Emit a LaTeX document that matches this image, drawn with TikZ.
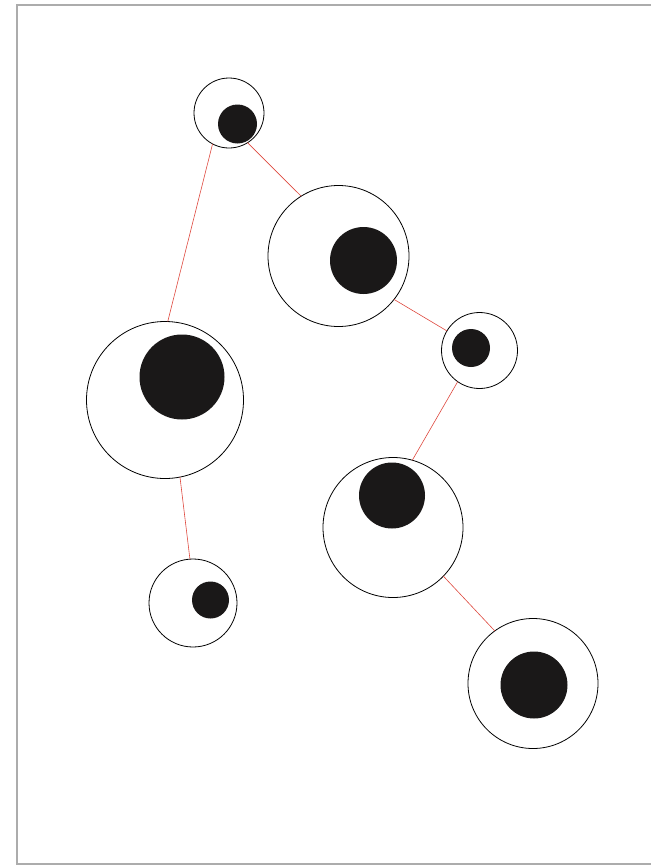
\documentclass[tikz,border=0pt]{standalone}
\usepackage{tikz}
\definecolor{linkred}{RGB}{222,72,62}
\definecolor{framegray}{RGB}{172,172,172}
\definecolor{dotblack}{RGB}{26,24,24}

\begin{document}
\begin{tikzpicture}[x=1pt, y=-1pt,
    ring/.style={circle, draw=black, line width=0.8pt, fill=white, inner sep=0pt, outer sep=0pt},
    dot/.style={circle, fill=dotblack, inner sep=0pt},
    link/.style={draw=linkred, line width=0.6pt}]

    \useasboundingbox (0,0) rectangle (651,865);

    % --- Frame (right side cut off) ---
    \coordinate (fTR) at (651,5);
    \coordinate (fTL) at (17,5);
    \coordinate (fBL) at (17,864);
    \coordinate (fBR) at (651,864);
    \draw[framegray, line width=1.3pt] (fTR) -- (fTL) -- (fBL) -- (fBR);

    % --- Outer rings ---
    \node[ring, minimum size=70pt]  (r1) at (229,113) {};
    \node[ring, minimum size=141pt] (r2) at (338.5,256) {};
    \node[ring, minimum size=157pt] (r3) at (165,400) {};
    \node[ring, minimum size=76pt]  (r4) at (479.5,350.5) {};
    \node[ring, minimum size=140pt] (r5) at (393,527.5) {};
    \node[ring, minimum size=88pt]  (r6) at (193,603) {};
    \node[ring, minimum size=130pt] (r7) at (533,683.5) {};

    % --- Black cores ---
    \node[dot, minimum size=39pt] (d1) at (237.5,124) {};
    \node[dot, minimum size=67pt] (d2) at (363.5,260.5) {};
    \node[dot, minimum size=85pt] (d3) at (182,377) {};
    \node[dot, minimum size=38pt] (d4) at (471,348) {};
    \node[dot, minimum size=66pt] (d5) at (392,495.5) {};
    \node[dot, minimum size=37pt] (d6) at (210.5,600) {};
    \node[dot, minimum size=67pt] (d7) at (534,685) {};

    % --- Red links between rings ---
    \draw[link] (r1.242) -- (r3.88);
    \draw[link] (r1.302) -- (r2.122);
    \draw[link] (r2.322) -- (r4.149);
    \draw[link] (r4.235) -- (r5.74);
    \draw[link] (r3.281) -- (r6.94);
    \draw[link] (r5.316) -- (r7.126);

\end{tikzpicture}
\end{document}
